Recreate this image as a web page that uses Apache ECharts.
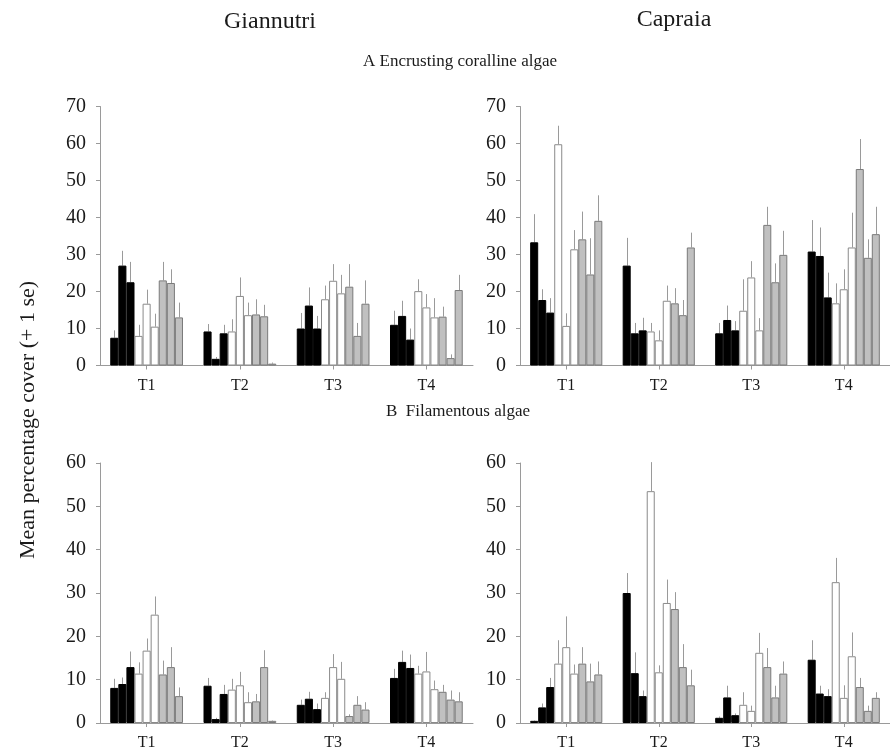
<!DOCTYPE html>
<html>
<head>
<meta charset="utf-8">
<script src="https://cdn.jsdelivr.net/npm/echarts@6/dist/echarts.min.js"></script>
<style>html,body{margin:0;padding:0;background:#fff}#c{width:890px;height:755px}</style>
</head>
<body>
<div id="c"></div>
<script>
// ---- data ----
const categories = ['T1', 'T2', 'T3', 'T4'];
const barKinds = ['black', 'black', 'black', 'white', 'white', 'white', 'gray', 'gray', 'gray'];
const topTicks = [0, 10, 20, 30, 40, 50, 60, 70];
const bottomTicks = [0, 10, 20, 30, 40, 50, 60];

// rows = T1..T4, 9 bars each
const giannutriA_mean = [
  [7.5, 27, 22.5, 8, 16.7, 10.5, 23, 22.3, 13],
  [9.2, 1.8, 8.7, 9.2, 18.8, 13.6, 13.8, 13.3, 0.5],
  [10, 16.2, 10, 17.9, 22.9, 19.5, 21.3, 8, 16.7],
  [11, 13.4, 7, 20.1, 15.7, 13, 13.2, 2, 20.4]
];
const giannutriA_upper = [
  [9.5, 31, 28, 11, 20.5, 14, 28, 26, 17],
  [11.2, 2.3, 11, 12.5, 23.8, 17, 17.9, 16.4, 0.8],
  [14.2, 21.1, 13.4, 21.6, 27.4, 24.5, 27.4, 11.5, 23],
  [14.8, 17.5, 10, 23.3, 19.3, 18.2, 15.9, 3, 24.5]
];
const capraiaA_mean = [
  [33.3, 17.7, 14.3, 59.8, 10.7, 31.4, 34.1, 24.6, 39.1],
  [27, 8.7, 9.5, 9.2, 6.8, 17.5, 16.8, 13.6, 31.9],
  [8.7, 12.3, 9.5, 14.8, 23.8, 9.5, 38, 22.5, 29.9],
  [30.8, 29.6, 18.4, 16.8, 20.6, 31.9, 53.1, 29.1, 35.5]
];
const capraiaA_upper = [
  [40.9, 20.6, 18.2, 64.8, 14.1, 36.6, 41.6, 34.4, 46],
  [34.5, 11.5, 12.9, 11.5, 9.5, 21.6, 20.9, 17.7, 35.9],
  [11.5, 16.2, 12, 23.3, 28.2, 12.8, 42.9, 27.6, 36.4],
  [39.3, 37.3, 25.1, 22.2, 26, 41.3, 61.2, 34.1, 42.9]
];
const giannutriB_mean = [
  [8.1, 9.0, 12.9, 11.4, 16.7, 25, 11.2, 12.9, 6.2],
  [8.6, 0.9, 6.7, 7.7, 8.7, 4.8, 5, 12.9, 0.5],
  [4.2, 5.6, 3.2, 5.8, 12.9, 10.2, 1.6, 4.2, 3.1],
  [10.4, 14.1, 12.7, 11.4, 11.9, 7.8, 7.2, 5.4, 5]
];
const giannutriB_upper = [
  [10.2, 10.5, 16.5, 14, 19.5, 29.2, 14.4, 17.5, 8.2],
  [10.4, 1.2, 8.8, 10.2, 11.8, 7.1, 6.7, 16.8, 0.6],
  [5.4, 7.2, 4.5, 7.1, 15.9, 14.1, 2, 6.2, 4.8],
  [12.5, 16.7, 15.8, 13.2, 16.4, 9.8, 8.8, 7.5, 7.1]
];
const capraiaB_mean = [
  [0.5, 3.6, 8.3, 13.7, 17.5, 11.4, 13.7, 9.6, 11.2],
  [30, 11.5, 6.2, 53.5, 11.7, 27.7, 26.3, 12.9, 8.7],
  [1.2, 5.9, 1.8, 4.2, 2.8, 16.2, 12.9, 5.9, 11.4],
  [14.6, 6.8, 6.2, 32.5, 5.8, 15.4, 8.3, 2.8, 5.8]
];
const capraiaB_upper = [
  [0.6, 4.5, 10.4, 19.1, 24.6, 13.5, 17.5, 13.7, 14.2],
  [34.6, 16.3, 7.5, 60.2, 13.3, 33.1, 30.2, 18.2, 12.3],
  [1.5, 8.6, 2.2, 7.1, 4, 20.8, 17.3, 8.6, 14.2],
  [19.1, 8.6, 7.8, 38.1, 8.7, 20.9, 10.4, 4, 7.1]
];

// ---- layout / style ----
const FONT = '"Liberation Serif", "DejaVu Serif", serif';
const CAT_GAP = 0.22;
const fills = { black: '#000000', white: '#ffffff', gray: '#c0c0c0' };
const borders = { black: '#000000', white: '#8a8a8a', gray: '#7a7a7a' };

const panels = [
  { mean: giannutriA_mean, upper: giannutriA_upper, max: 70, grid: { left: 100, top: 106.5, width: 373, height: 259 } },
  { mean: capraiaA_mean, upper: capraiaA_upper, max: 70, grid: { left: 520, top: 106.5, width: 374, height: 259 } },
  { mean: giannutriB_mean, upper: giannutriB_upper, max: 60, grid: { left: 100, top: 463, width: 373, height: 260 } },
  { mean: capraiaB_mean, upper: capraiaB_upper, max: 60, grid: { left: 520, top: 463, width: 374, height: 260 } }
];

const grids = [], xAxes = [], yAxes = [], series = [];
panels.forEach((p, pi) => {
  grids.push(Object.assign({ containLabel: false }, p.grid));
  xAxes.push({
    type: 'category', gridIndex: pi, data: categories,
    axisLine: { lineStyle: { color: '#9a9a9a', width: 1 } },
    axisTick: { show: true, alignWithLabel: true, length: 4, lineStyle: { color: '#9a9a9a' } },
    axisLabel: { fontFamily: FONT, fontSize: 16, color: '#1a1a1a', margin: 12 },
    splitLine: { show: false }
  });
  yAxes.push({
    type: 'value', gridIndex: pi, min: 0, max: p.max, interval: 10,
    axisLine: { show: true, lineStyle: { color: '#9a9a9a', width: 1 } },
    axisTick: { show: true, length: 4, lineStyle: { color: '#9a9a9a' } },
    axisLabel: { fontFamily: FONT, fontSize: 20, color: '#1a1a1a', margin: 14 },
    splitLine: { show: false }
  });
  barKinds.forEach((kind, bi) => {
    series.push({
      type: 'bar', xAxisIndex: pi, yAxisIndex: pi,
      data: p.mean.map(row => row[bi]),
      barGap: 0, barCategoryGap: (CAT_GAP * 100) + '%',
      itemStyle: { color: fills[kind], borderColor: borders[kind], borderWidth: 1 },
      silent: true, animation: false
    });
  });
  const errData = [];
  p.mean.forEach((row, ci) => row.forEach((v, bi) => errData.push([ci, v, p.upper[ci][bi], bi])));
  series.push({
    type: 'custom', xAxisIndex: pi, yAxisIndex: pi, data: errData, z: 1, silent: true, animation: false,
    renderItem: function (params, api) {
      const ci = api.value(0);
      const lo = api.coord([ci, api.value(1)]);
      const hi = api.coord([ci, api.value(2)]);
      const band = api.size([1, 0])[0];
      const bw = band * (1 - CAT_GAP) / barKinds.length;
      const x = Math.round(lo[0] + (api.value(3) - (barKinds.length - 1) / 2) * bw) + 0.5;
      return { type: 'line', shape: { x1: x, y1: lo[1], x2: x, y2: hi[1] }, style: { stroke: '#9a9a9a', lineWidth: 1 } };
    }
  });
});

const chart = echarts.init(document.getElementById('c'), null, { renderer: 'canvas' });
chart.setOption({
  animation: false,
  backgroundColor: '#ffffff',
  grid: grids, xAxis: xAxes, yAxis: yAxes, series: series,
  graphic: [
    { type: 'text', x: 270, y: 22, style: { text: 'Giannutri', font: '24px ' + FONT, fill: '#1a1a1a', textAlign: 'center', textVerticalAlign: 'middle' } },
    { type: 'text', x: 674, y: 20, style: { text: 'Capraia', font: '24px ' + FONT, fill: '#1a1a1a', textAlign: 'center', textVerticalAlign: 'middle' } },
    { type: 'text', x: 460, y: 62, style: { text: 'A Encrusting coralline algae', font: '17px ' + FONT, fill: '#1a1a1a', textAlign: 'center', textVerticalAlign: 'middle' } },
    { type: 'text', x: 458, y: 412, style: { text: 'B  Filamentous algae', font: '17px ' + FONT, fill: '#1a1a1a', textAlign: 'center', textVerticalAlign: 'middle' } },
    { type: 'text', x: 28, y: 420, rotation: Math.PI / 2, style: { text: 'Mean percentage cover (+ 1 se)', font: '22px ' + FONT, fill: '#1a1a1a', textAlign: 'center', textVerticalAlign: 'middle' } }
  ]
});
</script>
</body>
</html>
